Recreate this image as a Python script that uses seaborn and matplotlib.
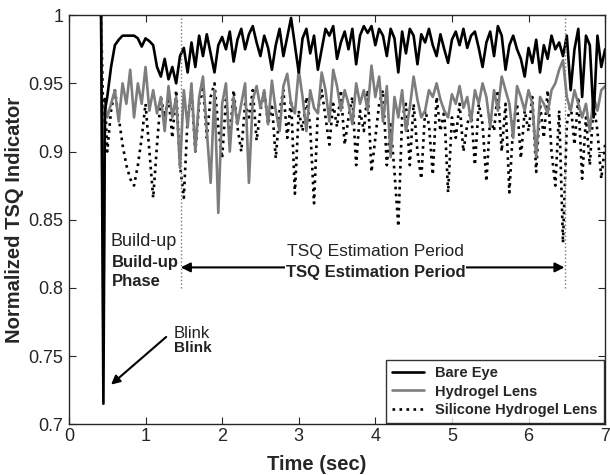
"""Normalized TSQ indicator vs time for three eye conditions"""
import numpy as np
import pandas as pd
import matplotlib
matplotlib.use('Agg')
import matplotlib.pyplot as plt
import seaborn as sns

# samples around the blink (sec)
blink_t = [0.42, 0.45, 0.47]
blink_bare = [1.0, 0.715, 0.93]
blink_hydrogel = [1.0, 0.77, 0.935]
blink_silicone = [1.0, 0.92, 0.94]

# regular samples from 0.5 s to 7.0 s, every 0.05 s
t_start, t_step = 0.5, 0.05

bare_eye = [
    0.940, 0.962, 0.978, 0.982, 0.985, 0.985, 0.985, 0.985, 0.983, 0.977,
    0.983, 0.981, 0.978, 0.962, 0.955, 0.968, 0.953, 0.962, 0.950, 0.970,
    0.976, 0.958, 0.980, 0.962, 0.985, 0.970, 0.986, 0.972, 0.958, 0.978,
    0.984, 0.975, 0.988, 0.966, 0.982, 0.990, 0.975, 0.986, 0.992, 0.980,
    0.970, 0.985, 0.976, 0.960, 0.978, 0.990, 0.970, 0.984, 0.998, 0.978,
    0.958, 0.983, 0.990, 0.972, 0.985, 0.960, 0.975, 0.990, 0.985, 0.992,
    0.968, 0.980, 0.988, 0.975, 0.990, 0.964, 0.985, 0.992, 0.987, 0.992,
    0.978, 0.990, 0.985, 0.970, 0.990, 0.983, 0.958, 0.988, 0.972, 0.990,
    0.985, 0.964, 0.986, 0.980, 0.990, 0.978, 0.970, 0.986, 0.975, 0.965,
    0.982, 0.988, 0.978, 0.990, 0.976, 0.985, 0.988, 0.976, 0.962, 0.980,
    0.988, 0.970, 0.992, 0.985, 0.960, 0.978, 0.985, 0.975, 0.968, 0.955,
    0.976, 0.965, 0.982, 0.958, 0.978, 0.968, 0.985, 0.975, 0.980, 0.970,
    0.985, 0.945, 0.975, 0.990, 0.940, 0.985, 0.978, 0.925, 0.985, 0.962,
    0.975,
]

hydrogel = [
    0.925, 0.935, 0.945, 0.922, 0.950, 0.935, 0.960, 0.925, 0.950, 0.935,
    0.962, 0.930, 0.945, 0.928, 0.940, 0.915, 0.948, 0.925, 0.940, 0.888,
    0.945, 0.918, 0.950, 0.900, 0.940, 0.955, 0.915, 0.877, 0.945, 0.855,
    0.935, 0.950, 0.900, 0.940, 0.920, 0.935, 0.950, 0.877, 0.938, 0.948,
    0.932, 0.945, 0.920, 0.952, 0.930, 0.915, 0.948, 0.957, 0.935, 0.928,
    0.960, 0.940, 0.915, 0.945, 0.932, 0.928, 0.958, 0.945, 0.922, 0.960,
    0.948, 0.930, 0.945, 0.935, 0.920, 0.950, 0.935, 0.945, 0.930, 0.963,
    0.940, 0.955, 0.922, 0.948, 0.896, 0.940, 0.925, 0.945, 0.915, 0.932,
    0.955, 0.938, 0.925, 0.930, 0.945, 0.940, 0.950, 0.938, 0.930, 0.925,
    0.942, 0.935, 0.948, 0.932, 0.940, 0.922, 0.945, 0.935, 0.950, 0.940,
    0.918, 0.945, 0.930, 0.955, 0.945, 0.935, 0.910, 0.948, 0.940, 0.930,
    0.945, 0.935, 0.896, 0.940, 0.935, 0.928, 0.945, 0.950, 0.960, 0.967,
    0.940, 0.930, 0.945, 0.935, 0.925, 0.935, 0.915, 0.940, 0.930, 0.945,
    0.948,
]

silicone = [
    0.900, 0.930, 0.945, 0.925, 0.905, 0.890, 0.880, 0.875, 0.890, 0.910,
    0.935, 0.900, 0.866, 0.905, 0.940, 0.925, 0.940, 0.910, 0.945, 0.890,
    0.866, 0.925, 0.945, 0.900, 0.935, 0.948, 0.910, 0.940, 0.950, 0.918,
    0.895, 0.938, 0.910, 0.945, 0.918, 0.900, 0.935, 0.925, 0.945, 0.908,
    0.930, 0.945, 0.920, 0.935, 0.895, 0.930, 0.945, 0.910, 0.938, 0.869,
    0.930, 0.915, 0.940, 0.918, 0.862, 0.930, 0.945, 0.925, 0.905, 0.935,
    0.918, 0.945, 0.905, 0.925, 0.940, 0.890, 0.930, 0.915, 0.945, 0.885,
    0.910, 0.935, 0.945, 0.890, 0.920, 0.885, 0.845, 0.925, 0.935, 0.890,
    0.935, 0.900, 0.880, 0.930, 0.920, 0.883, 0.940, 0.915, 0.930, 0.870,
    0.925, 0.910, 0.935, 0.900, 0.920, 0.930, 0.890, 0.935, 0.920, 0.878,
    0.925, 0.915, 0.945, 0.900, 0.935, 0.870, 0.920, 0.935, 0.895, 0.930,
    0.915, 0.940, 0.885, 0.935, 0.910, 0.945, 0.900, 0.875, 0.930, 0.833,
    0.920, 0.935, 0.905, 0.940, 0.880, 0.925, 0.890, 0.935, 0.915, 0.880,
    0.905,
]

x_ticks = [0, 1, 2, 3, 4, 5, 6, 7]
y_ticks = [0.7, 0.75, 0.8, 0.85, 0.9, 0.95, 1.0]
y_tick_labels = ['0.7', '0.75', '0.8', '0.85', '0.9', '0.95', '1']

build_up_end = 1.46
estimation_end = 6.47


def series(blink_vals, vals):
    t = np.round(t_start + t_step * np.arange(len(vals)), 3)
    return pd.DataFrame({'time': list(blink_t) + list(t),
                         'tsq': list(blink_vals) + list(vals)})


sns.set_style('ticks')
plt.rcParams['font.family'] = ['Liberation Sans', 'DejaVu Sans']

fig = plt.figure(figsize=(6.1, 4.75), dpi=100)
ax = fig.add_axes([0.113, 0.107, 0.879, 0.861])

styles = [
    ('Silicone Hydrogel Lens', blink_silicone, silicone, 'black', ':', 1.9),
    ('Hydrogel Lens', blink_hydrogel, hydrogel, '#7d7d7d', '-', 1.9),
    ('Bare Eye', blink_bare, bare_eye, 'black', '-', 1.9),
]
for label, b, v, color, ls, lw in styles:
    df = series(b, v)
    sns.lineplot(data=df, x='time', y='tsq', ax=ax, color=color,
                 linestyle=ls, linewidth=lw, estimator=None, sort=False,
                 label=label)

# phase boundaries
for xv in (build_up_end, estimation_end):
    ax.plot([xv, xv], [0.8, 1.0], color='#777777', linestyle=':', linewidth=1.0)

# estimation period arrow
ax.annotate('', xy=(build_up_end, 0.815), xytext=(estimation_end, 0.815),
            arrowprops=dict(arrowstyle='<|-|>', color='black', lw=1.5,
                            mutation_scale=14, shrinkA=0, shrinkB=0))
ax.text(4.0, 0.8265, 'TSQ Estimation Period', fontsize=12.5, ha='center',
        va='center', color='#222222')
ax.text(4.0, 0.8115, 'TSQ Estimation Period', fontsize=12, ha='center',
        va='center', fontweight='bold', color='#222222',
        bbox=dict(facecolor='white', edgecolor='none', pad=0.5))

# build-up phase
ax.text(0.54, 0.834, 'Build-up', fontsize=13, ha='left', va='center',
        color='#222222')
ax.text(0.56, 0.8115, 'Build-up\nPhase', fontsize=12, ha='left',
        va='center', fontweight='bold', color='#222222', linespacing=1.3)

# blink
ax.annotate('', xy=(0.55, 0.729), xytext=(1.27, 0.764),
            arrowprops=dict(arrowstyle='-|>', color='black', lw=1.5,
                            mutation_scale=13, shrinkA=0, shrinkB=0))
ax.text(1.37, 0.7665, 'Blink', fontsize=12, ha='left', va='center',
        color='#222222')
ax.text(1.37, 0.756, 'Blink', fontsize=11, ha='left', va='center',
        fontweight='bold', color='#222222')

ax.set_xlim(0, 7)
ax.set_ylim(0.7, 1.0)
ax.set_xticks(x_ticks)
ax.set_yticks(y_ticks)
ax.set_yticklabels(y_tick_labels)
ax.tick_params(direction='in', top=True, right=True, labelsize=13,
               length=5)
ax.tick_params(axis='x', pad=3)
ax.tick_params(axis='y', pad=4)
ax.set_xlabel('Time (sec)', fontsize=14.5, fontweight='bold', labelpad=5)
ax.xaxis.set_label_coords(0.463, -0.075)
ax.set_ylabel('Normalized TSQ Indicator', fontsize=14.5, fontweight='bold',
              labelpad=3)
for s in ax.spines.values():
    s.set_linewidth(1.0)

handles, labels = ax.get_legend_handles_labels()
order = [2, 1, 0]
leg = ax.legend([handles[i] for i in order], [labels[i] for i in order],
                loc='lower right', prop={'weight': 'bold', 'size': 10.5},
                frameon=True, fancybox=False, edgecolor='black',
                handlelength=2.2, borderaxespad=0.1, labelspacing=0.3)
leg.get_frame().set_linewidth(1.0)

fig.savefig('out.png', dpi=100)
